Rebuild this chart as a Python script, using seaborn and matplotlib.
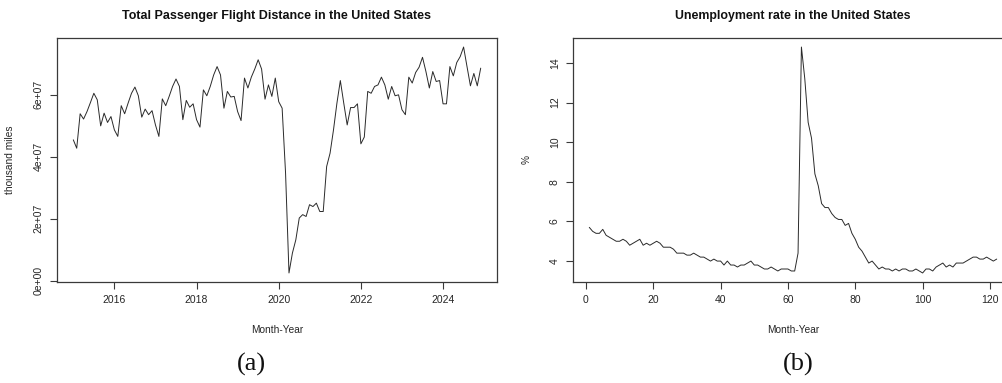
import numpy as np
import pandas as pd
import matplotlib
matplotlib.use("Agg")
import matplotlib.pyplot as plt
from matplotlib.ticker import FuncFormatter
import seaborn as sns

# Monthly total passenger flight distance, Jan 2015 - Dec 2024 (millions of thousand miles)
distance_2015 = [45.4, 42.7, 53.8, 52.1, 54.5, 57.4, 60.4, 58.3, 49.9, 54.0, 51.0, 52.9]
distance_2016 = [48.6, 46.5, 56.4, 53.8, 57.2, 60.4, 62.4, 59.6, 52.7, 55.3, 53.5, 54.8]
distance_2017 = [50.2, 46.5, 58.6, 56.4, 59.4, 62.6, 65.0, 62.6, 51.9, 58.1, 55.9, 57.0]
distance_2018 = [51.9, 49.5, 61.5, 59.6, 62.6, 66.3, 69.0, 66.3, 55.6, 61.0, 59.2, 59.4]
distance_2019 = [54.5, 51.6, 65.3, 62.1, 65.6, 68.2, 71.2, 68.2, 58.5, 63.1, 59.4, 65.3]
distance_2020 = [57.7, 55.6, 34.7, 2.5, 8.9, 13.2, 20.2, 21.3, 20.7, 24.5, 23.9, 25.0]
distance_2021 = [22.3, 22.3, 36.8, 41.1, 48.6, 57.2, 64.5, 57.2, 50.2, 55.8, 55.8, 57.0]
distance_2022 = [44.1, 46.3, 61.0, 60.4, 62.6, 63.1, 65.6, 63.1, 58.5, 62.6, 59.6, 59.9]
distance_2023 = [55.1, 53.5, 65.6, 63.7, 67.1, 68.8, 72.0, 67.4, 62.1, 67.4, 64.2, 64.5]
distance_2024 = [57.0, 57.0, 69.0, 66.0, 70.3, 72.2, 75.3, 69.0, 62.8, 66.8, 62.8, 68.5]

# Monthly unemployment rate (%), Jan 2015 - Feb 2025
unemployment_2015 = [5.7, 5.5, 5.4, 5.4, 5.6, 5.3, 5.2, 5.1, 5.0, 5.0, 5.1, 5.0]
unemployment_2016 = [4.8, 4.9, 5.0, 5.1, 4.8, 4.9, 4.8, 4.9, 5.0, 4.9, 4.7, 4.7]
unemployment_2017 = [4.7, 4.6, 4.4, 4.4, 4.4, 4.3, 4.3, 4.4, 4.3, 4.2, 4.2, 4.1]
unemployment_2018 = [4.0, 4.1, 4.0, 4.0, 3.8, 4.0, 3.8, 3.8, 3.7, 3.8, 3.8, 3.9]
unemployment_2019 = [4.0, 3.8, 3.8, 3.7, 3.6, 3.6, 3.7, 3.6, 3.5, 3.6, 3.6, 3.6]
unemployment_2020 = [3.5, 3.5, 4.4, 14.8, 13.2, 11.0, 10.2, 8.4, 7.8, 6.9, 6.7, 6.7]
unemployment_2021 = [6.4, 6.2, 6.1, 6.1, 5.8, 5.9, 5.4, 5.1, 4.7, 4.5, 4.2, 3.9]
unemployment_2022 = [4.0, 3.8, 3.6, 3.7, 3.6, 3.6, 3.5, 3.6, 3.5, 3.6, 3.6, 3.5]
unemployment_2023 = [3.5, 3.6, 3.5, 3.4, 3.6, 3.6, 3.5, 3.7, 3.8, 3.9, 3.7, 3.8]
unemployment_2024 = [3.7, 3.9, 3.9, 3.9, 4.0, 4.1, 4.2, 4.2, 4.1, 4.1, 4.2, 4.1]
unemployment_2025 = [4.0, 4.1]

start_year = 2015
left_xticks = [2016, 2018, 2020, 2022, 2024]
left_yticks = [0, 2e7, 4e7, 6e7]
right_xticks = [0, 20, 40, 60, 80, 100, 120]
right_yticks = [4, 6, 8, 10, 12, 14]

distance = np.concatenate([distance_2015, distance_2016, distance_2017, distance_2018,
                           distance_2019, distance_2020, distance_2021, distance_2022,
                           distance_2023, distance_2024]) * 1e6
unemployment = np.concatenate([unemployment_2015, unemployment_2016, unemployment_2017,
                               unemployment_2018, unemployment_2019, unemployment_2020,
                               unemployment_2021, unemployment_2022, unemployment_2023,
                               unemployment_2024, unemployment_2025])

flights = pd.DataFrame({"time": start_year + np.arange(len(distance)) / 12.0,
                        "miles": distance})
jobs = pd.DataFrame({"index": np.arange(1, len(unemployment) + 1),
                     "rate": unemployment})

sns.set_style("white")
plt.rcParams["font.family"] = ["Liberation Sans", "DejaVu Sans"]

W, H = 1003, 383
fig = plt.figure(figsize=(W / 100, H / 100), dpi=100)

def px_axes(x0, x1, y0, y1):
    return fig.add_axes([x0 / W, 1 - y1 / H, (x1 - x0) / W, (y1 - y0) / H])

ax1 = px_axes(57, 497, 38, 282)
ax2 = px_axes(573, 1013, 38, 282)

line_kw = dict(color="#2a2a2a", linewidth=0.7, estimator=None)
sns.lineplot(data=flights, x="time", y="miles", ax=ax1, **line_kw)
sns.lineplot(data=jobs, x="index", y="rate", ax=ax2, **line_kw)

text_color = "#262626"
for ax in (ax1, ax2):
    ax.margins(x=0.04, y=0.04)
    for sp in ax.spines.values():
        sp.set_color("#3a3a3a")
        sp.set_linewidth(0.9)
    ax.tick_params(axis="both", direction="out", length=5, width=0.8,
                   color="#3a3a3a", labelcolor=text_color, labelsize=7.5,
                   left=True, bottom=True, pad=4.5)

ax1.set_xticks(left_xticks)
ax1.set_yticks(left_yticks)
ax1.yaxis.set_major_formatter(FuncFormatter(lambda v, p: f"{v:.0e}"))
ax2.set_xticks(right_xticks)
ax2.set_yticks(right_yticks)

for ax in (ax1, ax2):
    for lbl in ax.get_yticklabels():
        lbl.set_rotation(90)
        lbl.set_va("center")

ax1.set_title("Total Passenger Flight Distance in the United States",
              fontsize=9.0, fontweight="bold", color="#111111", pad=14)
ax2.set_title("Unemployment rate in the United States",
              fontsize=8.9, fontweight="bold", color="#111111", pad=14)

ax1.set_xlabel("Month-Year", fontsize=7.3, color=text_color)
ax1.set_ylabel("thousand miles", fontsize=7.3, color=text_color)
ax2.set_xlabel("Month-Year", fontsize=7.3, color=text_color)
ax2.set_ylabel("%", fontsize=7.3, color=text_color)
ax1.xaxis.set_label_coords(0.5, -0.176)
ax2.xaxis.set_label_coords(0.5, -0.176)
ax1.yaxis.set_label_coords(-0.095, 0.5)
ax2.yaxis.set_label_coords(-0.094, 0.5)

sub_kw = dict(ha="center", va="center", fontsize=19, color="#111111",
              family=["Liberation Serif", "DejaVu Serif"])
fig.text(251 / W, 1 - 364 / H, "(a)", **sub_kw)
fig.text(798 / W, 1 - 364 / H, "(b)", **sub_kw)

fig.savefig("out.png", dpi=100)
